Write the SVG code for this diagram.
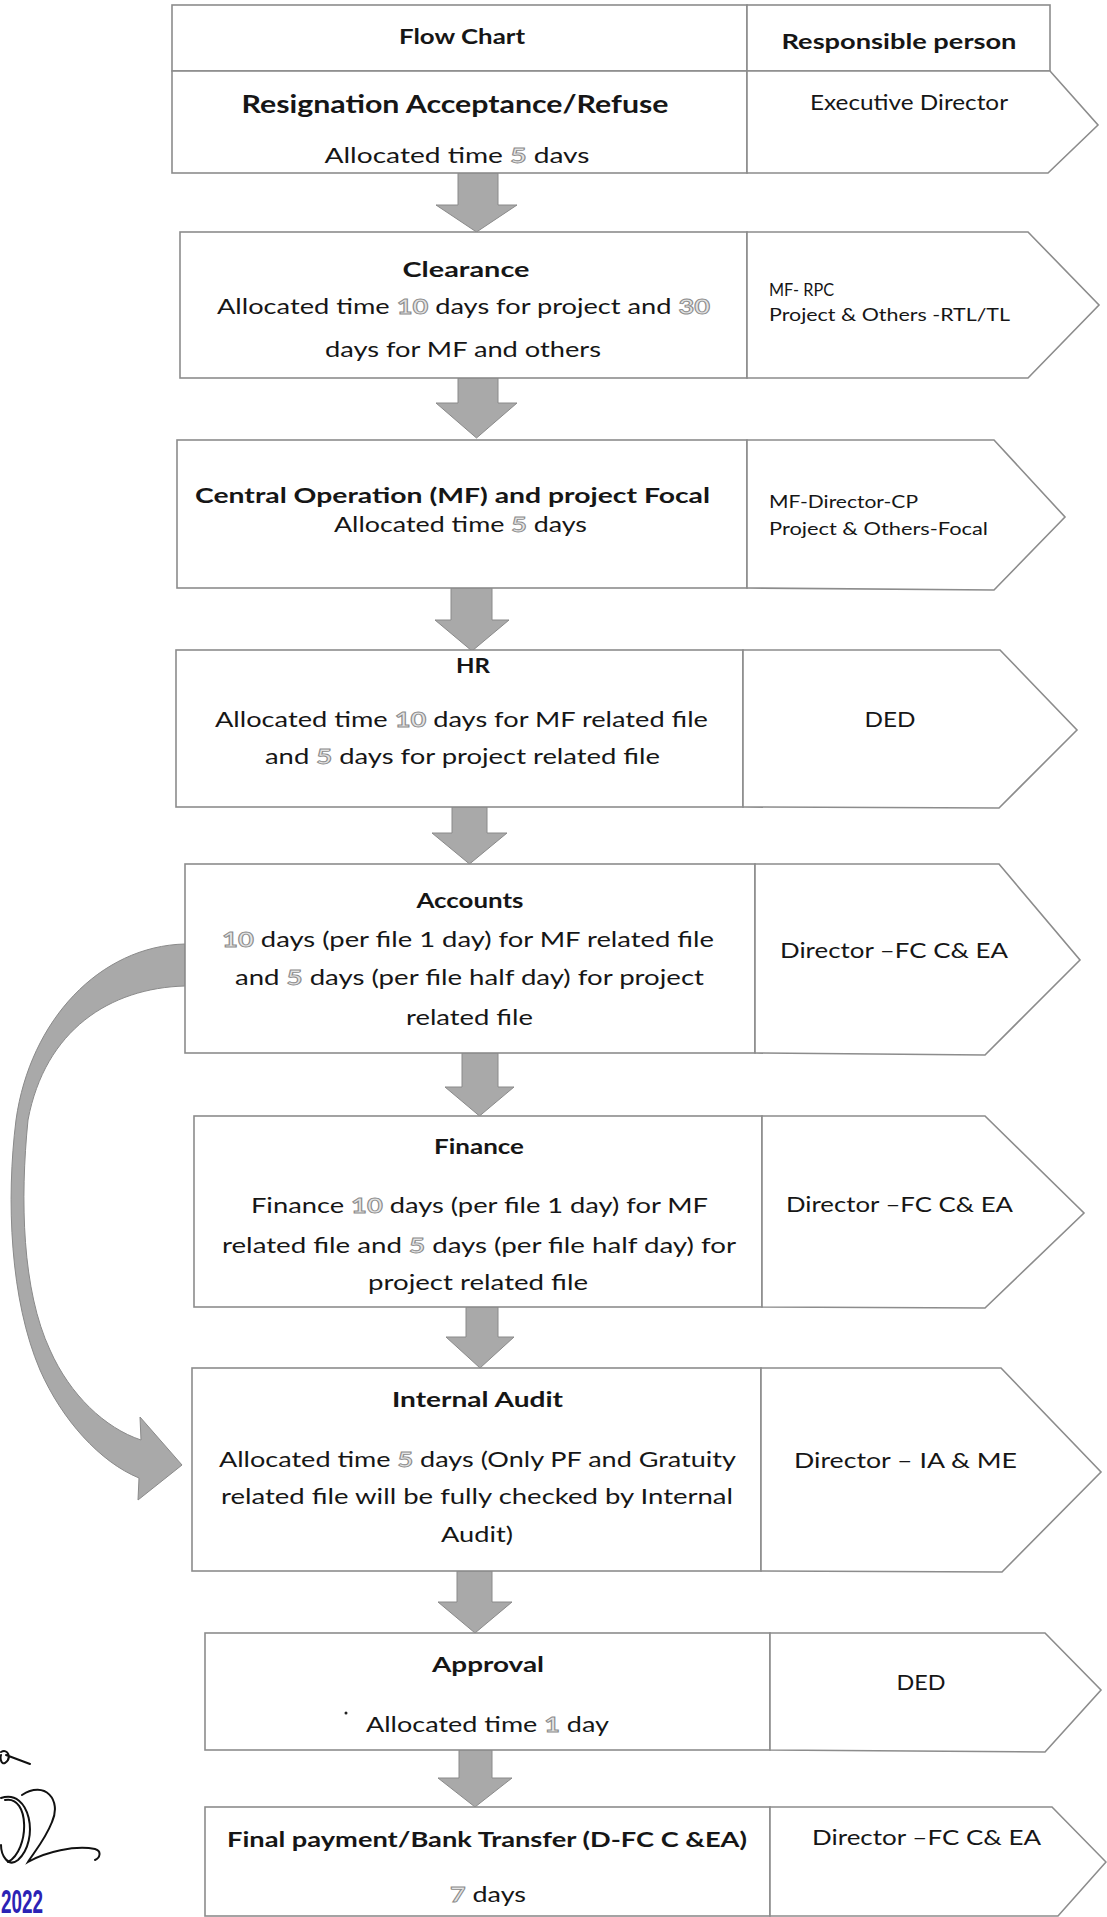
<svg xmlns="http://www.w3.org/2000/svg" width="1107" height="1917" viewBox="0 0 1107 1917">
<style>
text{font-family:Lato,"Liberation Sans",sans-serif;fill:#161616}
.t{font-size:21px}
.b{font-size:21px;font-weight:bold}
.s{font-size:17px}
.d{fill:#e4e4e4;stroke:#8a8a8a;stroke-width:0.9px;font-weight:bold}
.box{fill:#fff;stroke:#8c8c8c;stroke-width:1.6}
.arr{fill:#a9a9a9;stroke:#8a8a8a;stroke-width:1}
.sig{fill:none;stroke:#111;stroke-width:2;stroke-linecap:round}
</style>
<rect width="1107" height="1917" fill="#fff"/>

<g id="connectors">
  <path class="arr" d="M458,173 H498 V205 H517 L476.5,232 L436,205 H458 Z"/>
  <path class="arr" d="M458,378 H498 V403 H517 L476.5,438 L436,403 H458 Z"/>
  <path class="arr" d="M451,588 H492 V620 H509 L472,651 L435,620 H451 Z"/>
  <path class="arr" d="M452,807 H487 V833 H507 L469.5,864 L432,833 H452 Z"/>
  <path class="arr" d="M462,1053 H498 V1087 H514 L479.5,1116 L445,1087 H462 Z"/>
  <path class="arr" d="M466,1307 H498 V1337 H514 L480,1368 L446,1337 H466 Z"/>
  <path class="arr" d="M457,1571 H492 V1602 H512 L475,1633 L438,1602 H457 Z"/>
  <path class="arr" d="M459,1750 H492 V1778 H512 L475,1807 L438,1778 H459 Z"/>
  <path class="arr" d="M185,944 C100,946 30,1020 16,1120 C6,1200 10,1300 40,1370 C62,1420 100,1462 139,1478 L138,1500 L182,1465 L140,1417 L141,1440 C105,1428 70,1395 50,1350 C22,1290 20,1200 28,1120 C45,1030 110,988 185,986 Z"/>
</g>

<g id="header">
  <rect class="box" x="172" y="5" width="575" height="66"/>
  <rect class="box" x="747" y="5" width="303" height="66"/>
  <text class="b" x="462" y="44" text-anchor="middle" textLength="126" lengthAdjust="spacingAndGlyphs">Flow Chart</text>
  <text class="b" x="899" y="49" text-anchor="middle" textLength="235" lengthAdjust="spacingAndGlyphs">Responsible person</text>
</g>

<g id="node-resignation">
  <rect class="box" x="172" y="71" width="575" height="102"/>
  <path class="box" d="M747,71 L1050,71 L1098,125 L1048,173 L747,173 Z"/>
  <text class="b" style="font-size:25px" x="455" y="113" text-anchor="middle" textLength="427" lengthAdjust="spacingAndGlyphs">Resignation Acceptance/Refuse</text>
  <text class="t" x="457" y="163" text-anchor="middle" textLength="265" lengthAdjust="spacingAndGlyphs">Allocated time <tspan class="d">5</tspan> davs</text>
  <text class="t" x="810" y="110" textLength="198" lengthAdjust="spacingAndGlyphs">Executive Director</text>
</g>

<g id="node-clearance">
  <rect class="box" x="180" y="232" width="567" height="146"/>
  <path class="box" d="M747,232 L1028,232 L1099,305 L1028,378 L747,378 Z"/>
  <text class="b" x="466" y="277" text-anchor="middle" textLength="127" lengthAdjust="spacingAndGlyphs">Clearance</text>
  <text class="t" x="463.5" y="314" text-anchor="middle" textLength="493" lengthAdjust="spacingAndGlyphs">Allocated time <tspan class="d">10</tspan> days for project and <tspan class="d">30</tspan></text>
  <text class="t" x="463" y="357" text-anchor="middle" textLength="276" lengthAdjust="spacingAndGlyphs">days for MF and others</text>
  <text class="s" x="769" y="296" textLength="65" lengthAdjust="spacingAndGlyphs">MF- RPC</text>
  <text class="s" x="769" y="321" textLength="241" lengthAdjust="spacingAndGlyphs">Project &amp; Others -RTL/TL</text>
</g>

<g id="node-central">
  <rect class="box" x="177" y="440" width="570" height="148"/>
  <path class="box" d="M747,440 L994,440 L1065,517 L994,590 L747,588 Z"/>
  <text class="b" x="452.5" y="503" text-anchor="middle" textLength="515" lengthAdjust="spacingAndGlyphs">Central Operation (MF) and project Focal</text>
  <text class="t" x="460.5" y="532" text-anchor="middle" textLength="253" lengthAdjust="spacingAndGlyphs">Allocated time <tspan class="d">5</tspan> days</text>
  <text class="s" x="769" y="508" textLength="149" lengthAdjust="spacingAndGlyphs">MF-Director-CP</text>
  <text class="s" x="769" y="535" textLength="219" lengthAdjust="spacingAndGlyphs">Project &amp; Others-Focal</text>
</g>

<g id="node-hr">
  <rect class="box" x="176" y="650" width="567" height="157"/>
  <path class="box" d="M743,650 L1000,650 L1077,730 L999,808 L743,807 Z"/>
  <text class="b" x="473" y="673" text-anchor="middle" textLength="34" lengthAdjust="spacingAndGlyphs">HR</text>
  <text class="t" x="461.5" y="727" text-anchor="middle" textLength="493" lengthAdjust="spacingAndGlyphs">Allocated time <tspan class="d">10</tspan> days for MF related file</text>
  <text class="t" x="462.5" y="764" text-anchor="middle" textLength="395" lengthAdjust="spacingAndGlyphs">and <tspan class="d">5</tspan> days for project related file</text>
  <text class="t" x="890" y="727" text-anchor="middle" textLength="51" lengthAdjust="spacingAndGlyphs">DED</text>
</g>

<g id="node-accounts">
  <rect class="box" x="185" y="864" width="570" height="189"/>
  <path class="box" d="M755,864 L999,864 L1080,960 L985,1055 L755,1053 Z"/>
  <text class="b" x="470" y="908" text-anchor="middle" textLength="107" lengthAdjust="spacingAndGlyphs">Accounts</text>
  <text class="t" x="468" y="947" text-anchor="middle" textLength="492" lengthAdjust="spacingAndGlyphs"><tspan class="d">10</tspan> days (per file 1 day) for MF related file</text>
  <text class="t" x="469.5" y="985" text-anchor="middle" textLength="469" lengthAdjust="spacingAndGlyphs">and <tspan class="d">5</tspan> days (per file half day) for project</text>
  <text class="t" x="469.5" y="1025" text-anchor="middle" textLength="127" lengthAdjust="spacingAndGlyphs">related file</text>
  <text class="t" x="780" y="958" textLength="228" lengthAdjust="spacingAndGlyphs">Director –FC C&amp; EA</text>
</g>

<g id="node-finance">
  <rect class="box" x="194" y="1116" width="568" height="191"/>
  <path class="box" d="M762,1116 L985,1116 L1084,1213 L985,1308 L762,1307 Z"/>
  <text class="b" x="479" y="1154" text-anchor="middle" textLength="90" lengthAdjust="spacingAndGlyphs">Finance</text>
  <text class="t" x="479.5" y="1213" text-anchor="middle" textLength="457" lengthAdjust="spacingAndGlyphs">Finance <tspan class="d">10</tspan> days (per file 1 day) for MF</text>
  <text class="t" x="479" y="1253" text-anchor="middle" textLength="514" lengthAdjust="spacingAndGlyphs">related file and <tspan class="d">5</tspan> days (per file half day) for</text>
  <text class="t" x="478" y="1290" text-anchor="middle" textLength="220" lengthAdjust="spacingAndGlyphs">project related file</text>
  <text class="t" x="786" y="1212" textLength="227" lengthAdjust="spacingAndGlyphs">Director –FC C&amp; EA</text>
</g>

<g id="node-internal-audit">
  <rect class="box" x="192" y="1368" width="569" height="203"/>
  <path class="box" d="M761,1368 L1001,1368 L1101,1472 L1002,1572 L761,1571 Z"/>
  <text class="b" x="477.5" y="1407" text-anchor="middle" textLength="171" lengthAdjust="spacingAndGlyphs">Internal Audit</text>
  <text class="t" x="477.5" y="1467" text-anchor="middle" textLength="517" lengthAdjust="spacingAndGlyphs">Allocated time <tspan class="d">5</tspan> days (Only PF and Gratuity</text>
  <text class="t" x="477" y="1504" text-anchor="middle" textLength="512" lengthAdjust="spacingAndGlyphs">related file will be fully checked by Internal</text>
  <text class="t" x="477" y="1542" text-anchor="middle" textLength="72" lengthAdjust="spacingAndGlyphs">Audit)</text>
  <text class="t" x="794" y="1468" textLength="223" lengthAdjust="spacingAndGlyphs">Director – IA &amp; ME</text>
</g>

<g id="node-approval">
  <rect class="box" x="205" y="1633" width="565" height="117"/>
  <path class="box" d="M770,1633 L1045,1633 L1101,1690 L1045,1752 L770,1750 Z"/>
  <text class="b" x="488" y="1672" text-anchor="middle" textLength="112" lengthAdjust="spacingAndGlyphs">Approval</text>
  <circle cx="346" cy="1713" r="1.5" fill="#222"/>
  <text class="t" x="487.5" y="1732" text-anchor="middle" textLength="243" lengthAdjust="spacingAndGlyphs">Allocated time <tspan class="d">1</tspan> day</text>
  <text class="t" x="921" y="1690" text-anchor="middle" textLength="49" lengthAdjust="spacingAndGlyphs">DED</text>
</g>

<g id="node-final-payment">
  <rect class="box" x="205" y="1807" width="565" height="109"/>
  <path class="box" d="M770,1807 L1052,1807 L1106,1862 L1058,1916 L770,1916 Z"/>
  <text class="b" x="487" y="1847" text-anchor="middle" textLength="520" lengthAdjust="spacingAndGlyphs">Final payment/Bank Transfer (D-FC C &amp;EA)</text>
  <text class="t" x="812" y="1845" textLength="229" lengthAdjust="spacingAndGlyphs">Director –FC C&amp; EA</text>
  <text class="t" x="488" y="1902" text-anchor="middle" textLength="76" lengthAdjust="spacingAndGlyphs"><tspan class="d">7</tspan> days</text>
</g>

<g id="signature">
  <path class="sig" d="M1,1752 C8,1748 12,1758 5,1763 C1,1765 0,1758 1,1755 M6,1755 L30,1764"/>
  <path class="sig" d="M1,1798 C30,1788 40,1840 18,1860 C8,1868 1,1855 1,1845 M5,1800 C30,1795 30,1850 8,1862 M22,1795 C45,1780 62,1800 52,1822 C45,1840 32,1855 28,1862 C45,1852 75,1845 95,1849 C102,1851 100,1858 95,1860"/>
  <text x="1" y="1913" style="font-family:'Liberation Sans Narrow','Liberation Sans',sans-serif;font-size:34px;font-weight:bold;fill:#2b22b5" textLength="42" lengthAdjust="spacingAndGlyphs">2022</text>
</g>
</svg>
